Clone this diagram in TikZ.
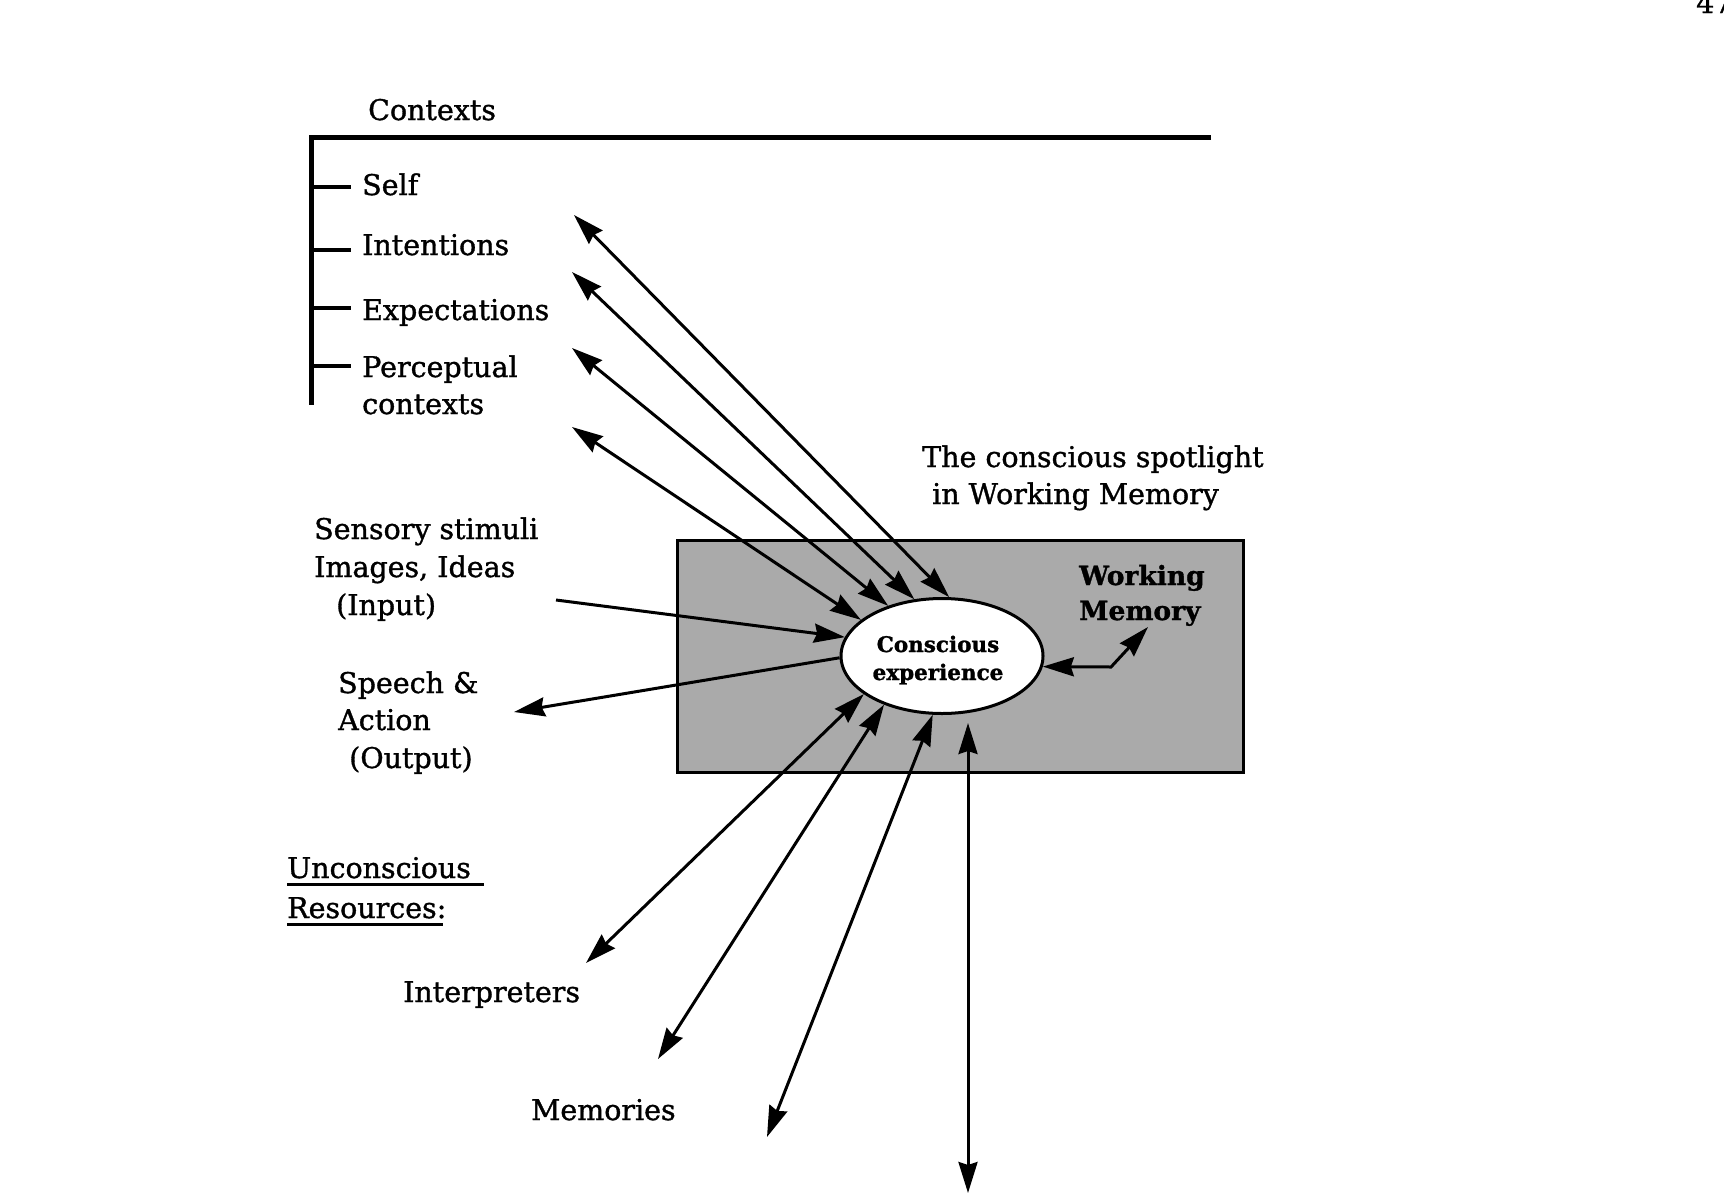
\documentclass[tikz,border=0pt]{standalone}
\usepackage{fontspec}
\setmainfont{DejaVu Serif}[RawFeature={embolden=1.2}]
\usetikzlibrary{arrows.meta,shapes.geometric,calc}
\definecolor{boxgray}{RGB}{170,170,170}
\begin{document}
\begin{tikzpicture}[x=1pt,y=-1pt,
  lbl/.style={font=\fontsize{28.5}{38}\selectfont, inner sep=0, anchor=base west},
  lblb/.style={font=\bfseries\fontsize{26.5}{34}\selectfont, inner sep=0, anchor=base west},
  cefont/.style={font=\bfseries\fontsize{21.5}{28}\selectfont, inner sep=0, anchor=base},
  tip/.tip={Stealth[length=31pt,width=19pt,inset=3pt]},
  arr/.style={line width=3pt, -tip},
  darr/.style={line width=3pt, tip-tip},
  framestyle/.style={line width=5pt, line join=miter},
  tickline/.style={line width=4.5pt}]
\fill[white] (0,0) rectangle (1724,1197);
\useasboundingbox (0,0) rectangle (1724,1197);

% page number (cut off at the top edge, as in the scan)
\node[lbl] (pg) at (1696,13) {47};

% contexts bracket
\node[lbl] (ctx) at (368,120) {Contexts};
\coordinate (fr-tr) at (1211,137);
\coordinate (fr-tl) at (311,137);
\coordinate (fr-bl) at (311,405);
\draw[framestyle] (fr-tr) -- (fr-tl) -- (fr-bl);
\draw[tickline] (311,187) -- (351,187);
\draw[tickline] (311,250) -- (351,250);
\draw[tickline] (311,308) -- (351,308);
\draw[tickline] (311,366) -- (351,366);
\node[lbl] (self) at (362,195) {Self};
\node[lbl] (int) at (362,255) {Intentions};
\node[lbl] (exp) at (362,320) {Expectations};
\node[lbl] (per1) at (362,377) {Perceptual};
\node[lbl] (per2) at (362,414) {contexts};

% spotlight label
\node[lbl] (sp1) at (922,467) {The conscious spotlight};
\node[lbl] (sp2) at (932,504) {in Working Memory};

% input / output labels
\node[lbl] (in1) at (314,539) {Sensory stimuli};
\node[lbl] (in2) at (314,577) {Images, Ideas};
\node[lbl] (in3) at (336,615) {(Input)};
\node[lbl] (out1) at (338,693) {Speech \&};
\node[lbl] (out2) at (338,730) {Action};
\node[lbl] (out3) at (349,768) {(Output)};

% unconscious resources
\node[lbl] (un1) at (287,878) {Unconscious};
\node[lbl] (un2) at (287,918) {Resources:};
\draw[line width=3pt] ($(un1.base west)+(0,6)$) -- ++(197,0);
\draw[line width=3pt] ($(un2.base west)+(0,6)$) -- ++(156,0);
\node[lbl] (interp) at (403,1002) {Interpreters};
\node[lbl] (mem) at (531,1120) {Memories};

% working memory box and conscious experience
\node[draw, line width=3pt, fill=boxgray, minimum width=566pt, minimum height=232pt, inner sep=0] (wm) at (960,656) {};
\node[lblb] (wm1) at (1079,585) {Working};
\node[lblb] (wm2) at (1079,620) {Memory};
\node[ellipse, draw, line width=3pt, fill=white, minimum width=202pt, minimum height=115pt, inner sep=0] (ce) at (942,656) {};
\node[cefont] (ce1) at (938,652) {Conscious};
\node[cefont] (ce2) at (938,680) {experience};

% free ends
\coordinate (u1) at (574,215);
\coordinate (u2) at (572,272);
\coordinate (u3) at (572,348);
\coordinate (u4) at (572,427);
\coordinate (inp) at (556,600);
\coordinate (outp) at (514,712);
\coordinate (wmc) at (1111,667);
\coordinate (wmt) at (1148,627);
\coordinate (la) at (586,963);
\coordinate (lb) at (658,1059);
\coordinate (lc) at (767,1137);
\coordinate (dt) at (968,723);
\coordinate (db) at (968,1193);

% connectors
\draw[darr] (u1) -- (ce.83);
\draw[darr] (u2) -- (ce.116);
\draw[darr] (u3) -- (ce.137);
\draw[darr] (u4) -- (ce.156);
\draw[arr] (inp) -- (ce.169);
\draw[arr] (ce.181) -- (outp);
\draw[darr] (ce.-6) -- (wmc) -- (wmt);
\draw[darr] (la) -- (ce.-154);
\draw[darr] (lb) -- (ce.-140);
\draw[darr] (lc) -- (ce.-99);
\draw[darr] (db) -- (dt);
\end{tikzpicture}
\end{document}
